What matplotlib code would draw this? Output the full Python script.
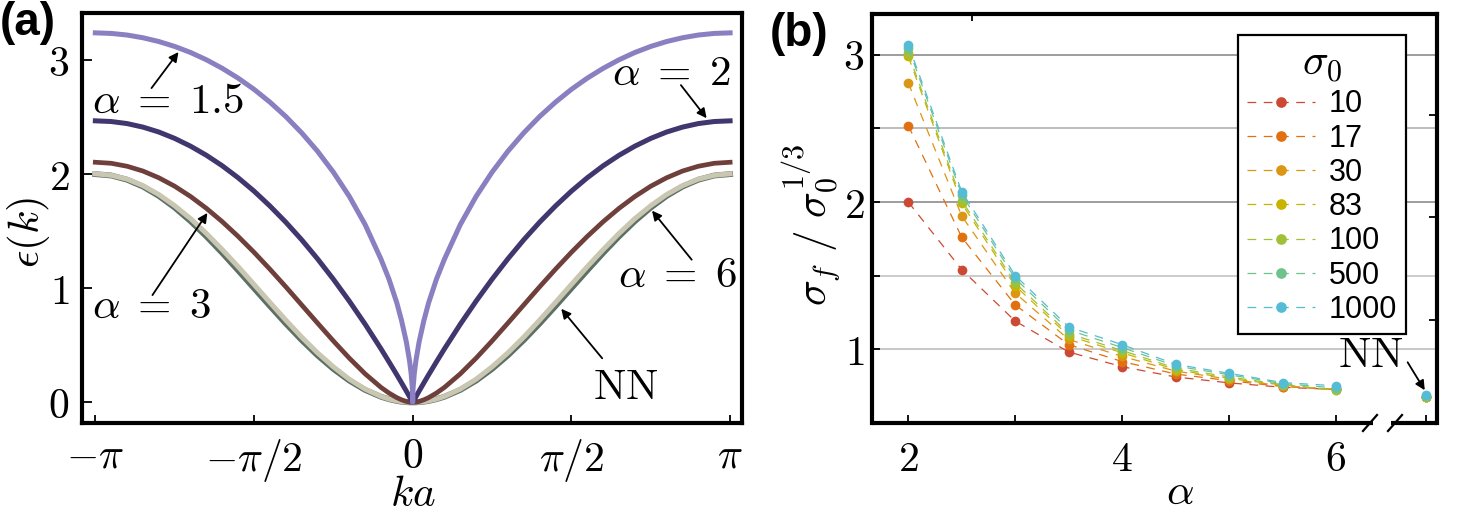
import numpy as np
import matplotlib
matplotlib.use("Agg")
import matplotlib.pyplot as plt

plt.rcParams['mathtext.fontset'] = 'cm'
plt.rcParams['font.family'] = ['Liberation Sans', 'DejaVu Sans']

# ---------------- data: panel (a) ----------------
# k/pi sample positions (k >= 0); curves are symmetric in k
u_half = [0, 0.001, 0.005, 0.01, 0.02, 0.035, 0.05, 0.075, 0.1, 0.15, 0.2, 0.25,
          0.3, 0.35, 0.4, 0.45, 0.5, 0.55, 0.6, 0.65, 0.7, 0.75, 0.8, 0.85, 0.9, 0.95, 1.0]
eps_a15 = [0, 0.12, 0.254, 0.364, 0.528, 0.715, 0.871, 1.081, 1.255, 1.558, 1.806, 2.017,
           2.201, 2.362, 2.505, 2.631, 2.743, 2.841, 2.927, 3.002, 3.066, 3.119, 3.162,
           3.195, 3.219, 3.233, 3.238]
eps_a2 = [0, 0.005, 0.025, 0.049, 0.098, 0.170, 0.241, 0.356, 0.469, 0.685, 0.888, 1.079,
          1.258, 1.425, 1.579, 1.721, 1.851, 1.968, 2.073, 2.165, 2.245, 2.313, 2.369,
          2.412, 2.443, 2.461, 2.467]
eps_a3 = [0, 0.000, 0.001, 0.002, 0.008, 0.022, 0.041, 0.082, 0.131, 0.250, 0.388, 0.538,
          0.695, 0.854, 1.013, 1.167, 1.315, 1.454, 1.583, 1.700, 1.804, 1.894, 1.968,
          2.027, 2.069, 2.095, 2.104]
eps_a6 = [0, 0.000, 0.000, 0.001, 0.002, 0.006, 0.013, 0.029, 0.052, 0.116, 0.203, 0.311,
          0.434, 0.572, 0.721, 0.876, 1.033, 1.189, 1.338, 1.480, 1.610, 1.723, 1.821,
          1.899, 1.956, 1.990, 2.003]
eps_nn = [0, 0.000, 0.000, 0.000, 0.002, 0.006, 0.012, 0.028, 0.049, 0.109, 0.191, 0.293,
          0.412, 0.546, 0.691, 0.844, 1.000, 1.156, 1.309, 1.454, 1.588, 1.707, 1.809,
          1.891, 1.951, 1.988, 2.000]

# ---------------- data: panel (b) ----------------
alphas = [2, 2.5, 3, 3.5, 4, 4.5, 5, 5.5, 6]
alpha_nn = 6.84
sigma0_labels = ['10', '17', '30', '83', '100', '500', '1000']
s10 = [2.00, 1.54, 1.19, 0.98, 0.88, 0.81, 0.77, 0.74, 0.725]
s17 = [2.52, 1.76, 1.30, 1.03, 0.915, 0.83, 0.785, 0.745, 0.725]
s30 = [2.81, 1.905, 1.38, 1.065, 0.95, 0.85, 0.795, 0.75, 0.725]
s83 = [2.99, 1.99, 1.43, 1.09, 0.975, 0.86, 0.80, 0.755, 0.722]
s100 = [3.01, 2.01, 1.45, 1.105, 0.99, 0.87, 0.81, 0.758, 0.72]
s500 = [3.05, 2.05, 1.48, 1.13, 1.01, 0.885, 0.825, 0.765, 0.735]
s1000 = [3.07, 2.07, 1.50, 1.15, 1.03, 0.896, 0.835, 0.772, 0.75]
nn_vals = [0.675, 0.675, 0.675, 0.672, 0.672, 0.682, 0.69]
series_b = [s10, s17, s30, s83, s100, s500, s1000]
colors_b = ['#cc4a33', '#e07010', '#db9614', '#c8b400', '#a0c037', '#6ec38c', '#55bcd6']

W, H = 1471, 514
fig = plt.figure(figsize=(W / 100, H / 100), dpi=100)

# ================= panel (a) =================
ax1 = fig.add_axes([82 / W, 1 - 423 / H, 660 / W, 410 / H])
k_half = np.pi * np.array(u_half)
k_full = np.concatenate([-k_half[::-1], k_half[1:]])


def sym(v):
    v = np.array(v)
    return np.concatenate([v[::-1], v[1:]])


ax1.plot(k_full, sym(eps_nn), color='#5d7065', lw=4.2, solid_capstyle='projecting', zorder=2)
ax1.plot(k_full, sym(eps_a6), color='#c9c6b1', lw=3.6, solid_capstyle='projecting', zorder=3)
ax1.plot(k_full, sym(eps_a3), color='#6e3f3b', lw=3.4, solid_capstyle='projecting', zorder=4)
ax1.plot(k_full, sym(eps_a2), color='#41366e', lw=3.6, solid_capstyle='projecting', zorder=5)
ax1.plot(k_full, sym(eps_a15), color='#8a7fc0', lw=3.6, solid_capstyle='projecting', zorder=6)

ax1.set_xlim(-1.042 * np.pi, 1.0375 * np.pi)
ax1.set_ylim(-0.181, 3.412)
ax1.set_xticks([-np.pi, -np.pi / 2, 0, np.pi / 2, np.pi])
ax1.set_xticklabels([r'$-\pi$', r'$-\pi/2$', r'$0$', r'$\pi/2$', r'$\pi$'])
ax1.set_yticks([0, 1, 2, 3])
ax1.set_yticklabels([r'$0$', r'$1$', r'$2$', r'$3$'])
ax1.tick_params(axis='x', direction='in', length=6, width=1.3, labelsize=30, pad=10)
ax1.tick_params(axis='y', direction='in', length=7, width=1.3, labelsize=30, pad=9)
for s in ax1.spines.values():
    s.set_linewidth(3)

arw = dict(arrowstyle='-|>', lw=1.3, color='k', mutation_scale=14, shrinkA=0, shrinkB=0)
fs_t = 31
ax1.annotate('', xy=(-0.738 * np.pi, 3.07), xytext=(-0.823 * np.pi, 2.754), arrowprops=arw)
ax1.text(-1.01 * np.pi, 2.63, r'$\alpha\;=\;1.5$', fontsize=fs_t, ha='left', va='center')
ax1.annotate('', xy=(0.926 * np.pi, 2.49), xytext=(0.845 * np.pi, 2.78), arrowprops=arw)
ax1.text(1.0 * np.pi, 2.88, r'$\alpha\;=\;2$', fontsize=fs_t, ha='right', va='center')
ax1.annotate('', xy=(-0.647 * np.pi, 1.66), xytext=(-0.82 * np.pi, 0.94), arrowprops=arw)
ax1.text(-1.01 * np.pi, 0.84, r'$\alpha\;=\;3$', fontsize=fs_t, ha='left', va='center')
ax1.annotate('', xy=(0.754 * np.pi, 1.68), xytext=(0.879 * np.pi, 1.25), arrowprops=arw)
ax1.text(1.02 * np.pi, 1.11, r'$\alpha\;=\;6$', fontsize=fs_t, ha='right', va='center')
ax1.annotate('', xy=(0.468 * np.pi, 0.82), xytext=(0.597 * np.pi, 0.386), arrowprops=arw)
ax1.text(0.672 * np.pi, 0.13, r'$\mathrm{NN}$', fontsize=fs_t, ha='center', va='center')

fig.text(413 / W, 1 - 506 / H, r'$ka$', fontsize=31, ha='center', va='baseline')
fig.text(29 / W, 1 - 232 / H, r'$\epsilon(k)$', fontsize=31, ha='center', va='center',
         rotation=90)
fig.text(0.0, 1 - 1 / H, '(a)', fontsize=33, fontweight='bold', ha='left', va='top',
         family=['Liberation Sans', 'DejaVu Sans'])

# ================= panel (b) =================
ax2 = fig.add_axes([871.5 / W, 1 - 423 / H, 565 / W, 409.5 / H])
ax2.set_xlim(1.656, 6.94)
ax2.set_ylim(0.497, 3.282)

for g, c in zip([1.0, 1.5, 2.0, 2.5, 3.0], ['#bdbdbd', '#c4c4c4', '#8c8c8c', '#b0b0b0', '#8c8c8c']):
    ax2.axhline(g, color=c, lw=1.2, zorder=0)

handles = []
for i, (vals, col, lab, nv) in enumerate(zip(series_b, colors_b, sigma0_labels, nn_vals)):
    h, = ax2.plot(alphas, vals, linestyle=(0, (7, 6)), lw=0.9, color=col, marker='o',
                  markersize=7.0, markeredgewidth=0, zorder=3 + i, label=lab)
    ax2.plot([alpha_nn], [nv], linestyle='none', color=col, marker='o', markersize=7.0,
             markeredgewidth=0, zorder=3 + i, clip_on=False)
    handles.append(h)

ax2.set_xticks([2, 3, 4, 5, 6, alpha_nn])
ax2.set_xticklabels([r'$2$', '', r'$4$', '', r'$6$', ''])
ax2.set_yticks([1, 1.5, 2, 2.5, 3])
ax2.set_yticklabels([r'$1$', '', r'$2$', '', r'$3$'])
ax2.tick_params(axis='x', direction='in', length=6, width=1.3, labelsize=30, pad=12)
ax2.tick_params(axis='y', direction='in', length=6, width=1.3, labelsize=30, pad=5)
for s in ['left', 'top', 'right']:
    ax2.spines[s].set_linewidth(3)
ax2.spines['bottom'].set_visible(False)

# broken bottom spine with break marks
tr = ax2.transAxes
x_gap_l = (1373 - 871.5) / 565
x_gap_r = (1391 - 871.5) / 565
ax2.plot([0, x_gap_l], [0, 0], transform=tr, color='k', lw=3, clip_on=False,
         solid_capstyle='butt', zorder=20)
ax2.plot([x_gap_r, 1.0], [0, 0], transform=tr, color='k', lw=3, clip_on=False,
         solid_capstyle='butt', zorder=20)
dx, dy = 7 / 565, 8 / 409.5
for xc in [(1370 - 871.5) / 565, (1395 - 871.5) / 565]:
    ax2.plot([xc - dx, xc + dx], [-dy, dy], transform=tr, color='k', lw=1.6,
             clip_on=False, zorder=20)

# extra frame ticks on right and top sides
sec = ax2.secondary_yaxis('right')
sec.set_yticks([1.2, 1.9, 2.59])
sec.set_yticklabels([])
sec.tick_params(direction='in', length=6, width=1.3)
sec.spines['right'].set_visible(False)
sect = ax2.secondary_xaxis('top')
sect.set_xticks([2.6])
sect.set_xticklabels([])
sect.tick_params(direction='in', length=6, width=1.3)
sect.spines['top'].set_visible(False)

ax2.annotate('', xy=(6.83, 0.72), xytext=(6.67, 0.91), arrowprops=arw, annotation_clip=False)
ax2.text(6.32, 0.952, r'$\mathrm{NN}$', fontsize=31, ha='center', va='center')

leg = ax2.legend(handles=handles, title=r'$\sigma_0$', loc='upper right',
                 bbox_to_anchor=(1406 / W, 1 - 35 / H), bbox_transform=fig.transFigure,
                 borderaxespad=0, fontsize=22, title_fontsize=31, frameon=True,
                 fancybox=False, edgecolor='k', framealpha=1, handlelength=2.2,
                 handletextpad=0.45, labelspacing=0.14, borderpad=0.3, markerscale=1.1)
leg.get_frame().set_linewidth(1.6)
leg.set_zorder(30)

fig.text(1180 / W, 1 - 493 / H, r'$\alpha$', fontsize=31, ha='center', va='center')
fig.text(812 / W, 1 - 225 / H, r'$\sigma_f\ /\ \sigma_0^{1/3}$', fontsize=31,
         ha='center', va='center', rotation=90)
fig.text(770 / W, 1 - 12 / H, '(b)', fontsize=33, fontweight='bold', ha='left', va='top',
         family=['Liberation Sans', 'DejaVu Sans'])

fig.savefig('out.png', dpi=100)
